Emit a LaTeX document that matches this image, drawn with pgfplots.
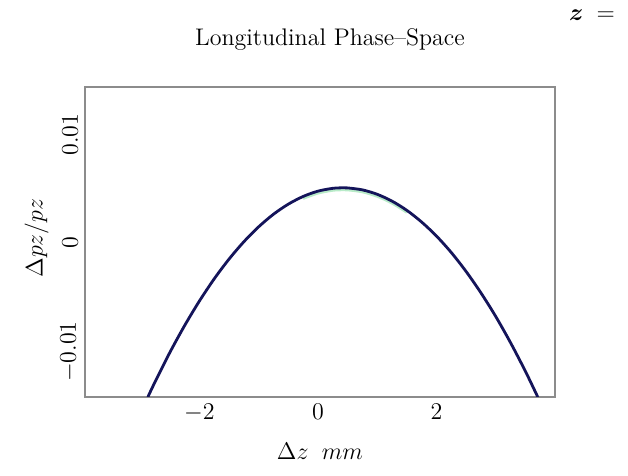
\documentclass[border=0pt]{standalone}
\usepackage{pgfplots}
\pgfplotsset{compat=1.18}
\usepackage{bm}
\definecolor{beam}{HTML}{14145A}
\definecolor{halo}{HTML}{B8EBC8}
\definecolor{frame}{HTML}{8C8C8C}
\begin{document}
\begin{tikzpicture}
  \useasboundingbox (0,0) rectangle (314pt,238pt);
  \node[font=\large] at (165pt,218pt) {Longitudinal Phase--Space};
  \node[anchor=west, font=\large] at (281pt,230.5pt) {$\bm{z}\;=$};
  \begin{axis}[
    at={(42.5pt,39.5pt)}, anchor=south west,
    scale only axis,
    width=235pt, height=155pt,
    xmin=-3.93, xmax=4.0,
    ymin=-0.0142, ymax=0.0144,
    xtick={-2,0,2},
    ytick={-0.01,0,0.01},
    scaled y ticks=false,
    yticklabel style={/pgf/number format/fixed, rotate=90, anchor=south, font=\large},
    xticklabel style={font=\large},
    major tick length=0pt,
    axis line style={frame, line width=0.75pt},
    xlabel={$\Delta z\;\; mm$},
    ylabel={$\Delta pz/pz$},
    xlabel style={font=\large, yshift=-4pt},
    ylabel style={font=\large, xshift=2pt, yshift=-1pt},
    clip=true,
    ]
    \addplot[halo, line width=1.2pt, smooth, yshift=-1.1pt] coordinates {
      (-0.25,0.00430) (0,0.00479)
      (0.25,0.00505) (0.42,0.0051) (0.5,0.00509) (0.75,0.00491)
      (1.0,0.00450) (1.25,0.00387) (1.5,0.00302)
    };
    \addplot[beam, line width=1.4pt, smooth] coordinates {
      (-2.87,-0.01421) (-2.75,-0.01283) (-2.5,-0.01011) (-2.25,-0.00762)
      (-2.0,-0.00535) (-1.75,-0.00330) (-1.5,-0.00148) (-1.25,0.00012)
      (-1.0,0.00150) (-0.75,0.00266) (-0.5,0.00359) (-0.25,0.00430)
      (0,0.00479) (0.25,0.00505) (0.42,0.0051) (0.5,0.00509)
      (0.75,0.00491) (1.0,0.00450) (1.25,0.00387) (1.5,0.00302)
      (1.75,0.00194) (2.0,0.00065) (2.25,-0.00087) (2.5,-0.00262)
      (2.75,-0.00459) (3.0,-0.00677) (3.25,-0.00919) (3.5,-0.01182)
      (3.71,-0.01421)
    };
  \end{axis}
\end{tikzpicture}
\end{document}
